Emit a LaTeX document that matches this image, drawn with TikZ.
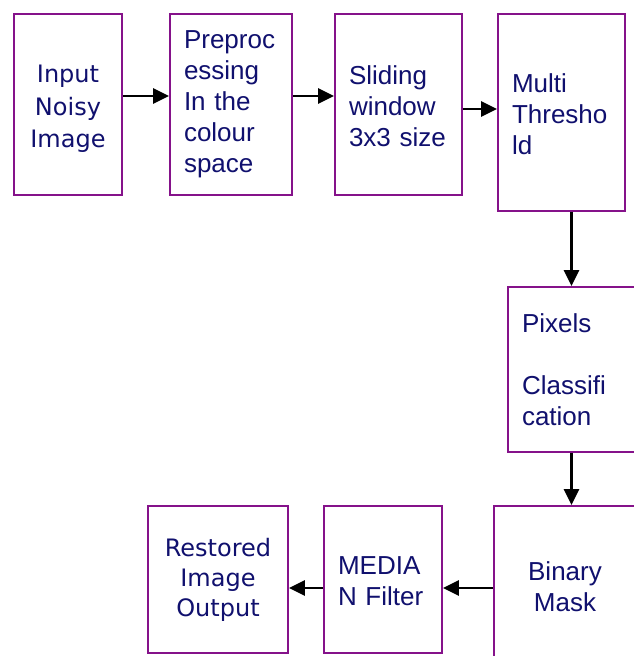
\documentclass[tikz,border=0pt]{standalone}
\usepackage{fontspec}
\setmainfont{Liberation Sans}
\newfontfamily\tahomalike{DejaVu Sans}
\usetikzlibrary{positioning, arrows.meta}
\definecolor{plum}{HTML}{85128A}
\definecolor{inkblue}{HTML}{10106E}
\tikzset{
  stage/.style={draw=plum, line width=1.8pt, fill=white, text=inkblue,
                inner xsep=14pt, inner ysep=0pt, align=left,
                font=\fontsize{26}{31}\selectfont},
  widestage/.style={stage, align=center, font=\tahomalike\fontsize{24}{30}\selectfont},
  flow/.style={-{Triangle[length=16pt 0, width=15pt 0]}, line width=2.6pt, black},
}
\begin{document}
\begin{tikzpicture}[x=1pt, y=-1pt]
  \useasboundingbox (0,0) rectangle (633,656);
  % top row
  \node[widestage, font=\tahomalike\fontsize{24}{32.5}\selectfont,
        minimum width=108pt, minimum height=181pt] (input) at (68,104.5)
    {\rule{0pt}{26pt}Input\\Noisy\\Image};
  \node[stage, minimum width=120pt, minimum height=181pt, text width=94pt] (prep) at (231,104.5)
    {Preproc\\essing\\In the\\colour\\space};
  \node[stage, minimum width=125pt, minimum height=181pt, text width=99pt] (slide) at (398.5,104.5)
    {\rule{0pt}{22pt}Sliding\\window\\3x3 size};
  \node[stage, minimum width=125pt, minimum height=197pt, text width=99pt] (thresh) at (561.5,112.5)
    {\rule{0pt}{22pt}Multi\\Thresho\\ld};
  % right column
  \node[stage, minimum width=125pt, minimum height=165pt, text width=99pt] (classify) at (571.5,369.5)
    {Pixels\\[31pt]Classifi\\cation};
  \node[stage, align=center, minimum width=142pt, minimum height=162pt] (mask) at (565,587)
    {Binary\\Mask};
  % bottom row
  \node[stage, minimum width=114pt, minimum height=147pt, text width=90pt] (median) at (383,579.5)
    {\rule{0pt}{22pt}MEDIA\\N Filter};
  \node[widestage, minimum width=140pt, minimum height=147pt] (restored) at (218,579.5)
    {Restored\\Image\\Output};

  \draw[flow] ([yshift=8.5pt]input.east) -- ([yshift=8.5pt]prep.west);
  \draw[flow] ([yshift=8.5pt]prep.east) -- ([yshift=8.5pt]slide.west);
  \draw[flow] ([yshift=-4.5pt]slide.east) -- ([yshift=3.5pt]thresh.west);
  \draw[flow] (thresh.south -| classify.north) -- (classify.north);
  \draw[flow] (classify.south) -- (mask.north -| classify.south);
  \draw[flow] ([yshift=-1pt]mask.west) -- ([yshift=-8.5pt]median.east);
  \draw[flow] ([yshift=-8.5pt]median.west) -- ([yshift=-8.5pt]restored.east);
\end{tikzpicture}
\end{document}
